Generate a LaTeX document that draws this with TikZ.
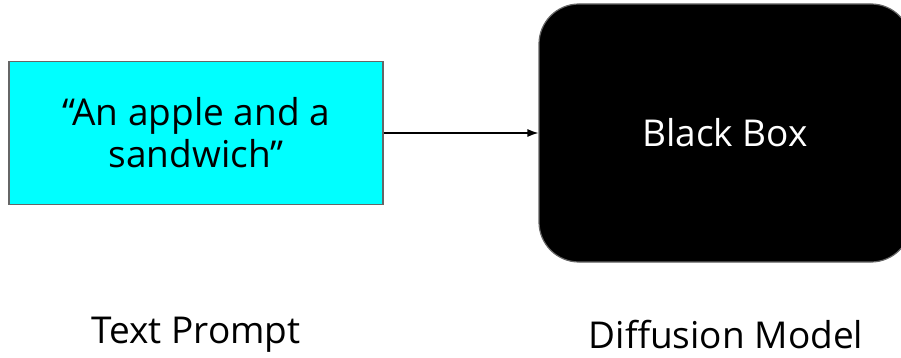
\documentclass[tikz,border=0pt]{standalone}
\usepackage{fontspec}
\setmainfont{Open Sans}
\usetikzlibrary{arrows.meta}
\definecolor{edgegray}{HTML}{666666}
\definecolor{aqua}{HTML}{00FFFF}
\tikzset{
  lbl/.style={font=\fontsize{37}{42}\selectfont, inner sep=0pt},
  promptbox/.style={draw=edgegray, line width=1.2pt, fill=aqua, minimum width=374pt, minimum height=143pt, align=center, font=\fontsize{37}{42}\selectfont},
  modelbox/.style={draw=edgegray, line width=1.2pt, fill=black, rounded corners=40pt, minimum width=372pt, minimum height=258pt, text=white, font=\fontsize{37}{42}\selectfont},
  flow/.style={-{Latex[length=11pt,width=8pt]}, line width=1.3pt}
}
\begin{document}
\begin{tikzpicture}[x=1pt,y=-1pt]
  \useasboundingbox (0,0) rectangle (901,358);
  \node[promptbox] (prompt) at (196,133) {“An apple and a\\sandwich”};
  \node[modelbox] (model) at (725,133) {Black Box};
  \draw[flow] (prompt.east) -- (model.west);
  \node[lbl] (promptlbl) at (196,335) {Text Prompt};
  \node[lbl] (modellbl) at (726,335) {Diffusion Model};
\end{tikzpicture}
\end{document}
